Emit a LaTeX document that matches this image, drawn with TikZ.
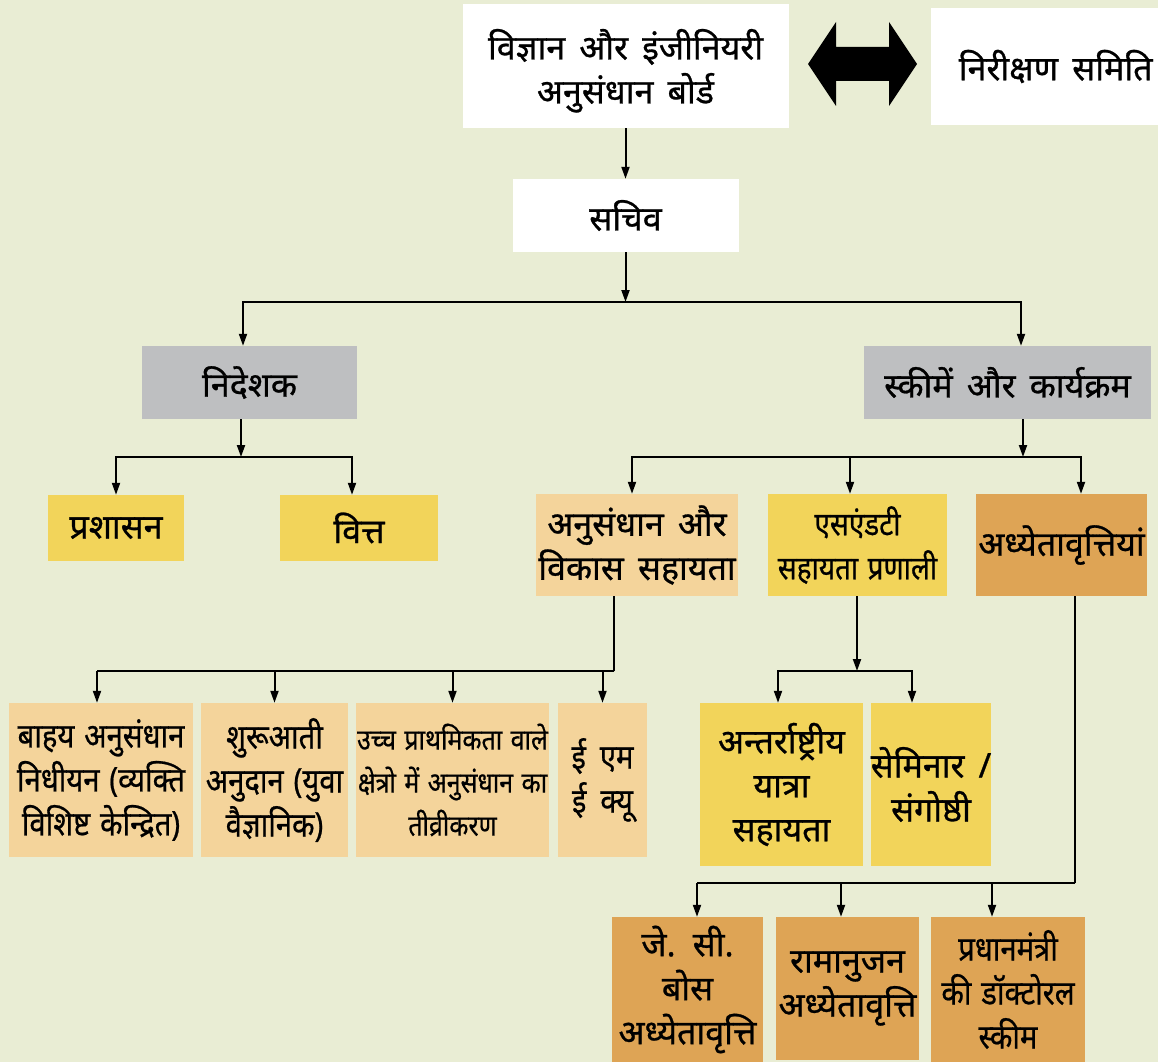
\documentclass[tikz,border=0pt]{standalone}
\usepackage{fontspec}
\setmainfont[Script=Devanagari,FakeBold=0.8,WordSpace=1.6]{Noto Sans}
\newfontfamily\cond[Script=Devanagari,FakeStretch=0.86,FakeBold=0.6,WordSpace=1.3]{Noto Sans}
\usetikzlibrary{arrows.meta}
\definecolor{bgc}{HTML}{E9EDD4}
\definecolor{grayc}{HTML}{BEBFC1}
\definecolor{yel}{HTML}{F2D45A}
\definecolor{lor}{HTML}{F4D49B}
\definecolor{orc}{HTML}{DEA455}
\tikzset{
  box/.style={rectangle, inner sep=0pt, align=center, font=\fontsize{34}{44}\selectfont},
  cbox/.style={box, font=\cond\fontsize{34}{44}\selectfont},
  ln/.style={line width=2pt, draw=black},
  arr/.style={ln, -{Triangle[length=12pt,width=8pt]}},
}
\begin{document}
\begin{tikzpicture}[x=1pt,y=-1pt]
\fill[bgc] (0,0) rectangle (1158,1062);
\useasboundingbox (0,0) rectangle (1158,1062);
% top
\node[box, fill=white, minimum width=326pt, minimum height=124pt] (board) at (625.5,66) {\rule{0pt}{40pt}विज्ञान और इंजीनियरी\\अनुसंधान बोर्ड};
\node[box, fill=white, minimum width=227pt, minimum height=117pt, anchor=west] (obs) at (931,66.5) {\hspace*{22pt}निरीक्षण समिति};
\fill[black] (808,64) -- (836,22) -- (836,47) -- (889,47) -- (889,22) -- (917,64) -- (889,106) -- (889,81) -- (836,81) -- (836,106) -- cycle;
\node[box, fill=white, minimum width=226pt, minimum height=73pt] (sec) at (625.5,215.5) {सचिव};
\draw[arr] (board.south) -- (sec.north);
% level 2
\node[box, fill=grayc, minimum width=215pt, minimum height=73pt] (dir) at (249.5,382.5) {निदेशक};
\node[box, fill=grayc, minimum width=287pt, minimum height=73pt] (sch) at (1007.5,382.5) {स्कीमें और कार्यक्रम};
\coordinate (b1) at (625.5,302);
\draw[arr] (sec.south) -- (b1);
\draw[arr] (b1) -| ([xshift=-6.5pt]dir.north);
\draw[arr] (b1) -| ([xshift=13.5pt]sch.north);
% director branch
\node[box, fill=yel, minimum width=136pt, minimum height=66pt] (adm) at (116,528) {प्रशासन};
\node[box, fill=yel, minimum width=158pt, minimum height=66pt] (fin) at (359,528) {वित्त};
\coordinate (b2) at (241,457);
\draw[arr] ([xshift=-8.5pt]dir.south) -- (b2);
\draw[arr] (b2) -| (adm.north);
\draw[arr] (b2) -| ([xshift=-7pt]fin.north);
% schemes branch
\node[box, fill=lor, minimum width=202pt, minimum height=102pt] (rnd) at (637,545) {अनुसंधान और\\विकास सहायता};
\node[cbox, fill=yel, minimum width=179pt, minimum height=102pt, font=\cond\fontsize{32.5}{44}\selectfont] (snt) at (857.5,545) {एसएंडटी\\सहायता प्रणाली};
\node[box, fill=orc, minimum width=171pt, minimum height=102pt] (fel) at (1061.5,545) {अध्येतावृत्तियां};
\coordinate (b3) at (1023,457);
\draw[arr] ([xshift=15.5pt]sch.south) -- (b3);
\draw[arr] (b3) -| ([xshift=-5pt]rnd.north);
\draw[arr] (b3) -| ([xshift=-7.5pt]snt.north);
\draw[arr] (b3) -| ([xshift=19.5pt]fel.north);
% R&D children
\node[cbox, fill=lor, minimum width=184pt, minimum height=154pt] (r1) at (101,780) {बाहय अनुसंधान\\निधीयन (व्यक्ति\\विशिष्ट केन्द्रित)};
\node[cbox, fill=lor, minimum width=147pt, minimum height=154pt] (r2) at (274.5,780) {शुरूआती\\अनुदान (युवा\\वैज्ञानिक)};
\node[cbox, fill=lor, minimum width=193pt, minimum height=154pt, font=\cond\fontsize{29}{43}\selectfont] (r3) at (452.5,780) {उच्च प्राथमिकता वाले\\क्षेत्रो में अनुसंधान का\\तीव्रीकरण};
\node[cbox, fill=lor, minimum width=89pt, minimum height=154pt] (r4) at (602.5,780) {ई\hspace{14pt}एम\\ई\hspace{14pt}क्यू};
\coordinate (c1) at (614,671);
\draw[ln] ([xshift=-23pt]rnd.south) -- (c1);
\draw[ln] (c1) -- (97,671) coordinate (c1l);
\draw[arr] (c1l) -- ([xshift=-4pt]r1.north);
\draw[arr] (c1) -| (r2.north);
\draw[arr] (c1) -| (r3.north);
\draw[arr] (c1) -| (r4.north);
% S&T children
\node[box, fill=yel, minimum width=163pt, minimum height=163pt] (s1) at (781.5,784.5) {अन्तर्राष्ट्रीय\\यात्रा\\सहायता};
\node[box, fill=yel, minimum width=116pt, minimum height=163pt] (s2) at (931,784.5) {सेमिनार /\\संगोष्ठी};
\coordinate (b4) at (857,671);
\draw[arr] ([xshift=-0.5pt]snt.south) -- (b4);
\draw[arr] (b4) -| ([xshift=-3.5pt]s1.north);
\draw[arr] (b4) -| ([xshift=-19pt]s2.north);
% fellowships children
\node[box, fill=orc, minimum width=151pt, minimum height=145pt] (f1) at (687.5,989.5) {जे. सी.\\बोस\\अध्येतावृत्ति};
\node[box, fill=orc, minimum width=143pt, minimum height=143pt] (f2) at (847.5,988.5) {रामानुजन\\अध्येतावृत्ति};
\node[cbox, fill=orc, minimum width=154pt, minimum height=145pt] (f3) at (1008,989.5) {प्रधानमंत्री\\की डॉक्टोरल\\स्कीम};
\coordinate (c3) at (1075,883);
\draw[ln] ([xshift=13.5pt]fel.south) -- (c3);
\draw[ln] (c3) -- (697,883) coordinate (c3l);
\draw[arr] (c3l) -- ([xshift=9.5pt]f1.north);
\draw[arr] (c3) -| ([xshift=-6.5pt]f2.north);
\draw[arr] (c3) -| ([xshift=-16pt]f3.north);
\end{tikzpicture}
\end{document}
